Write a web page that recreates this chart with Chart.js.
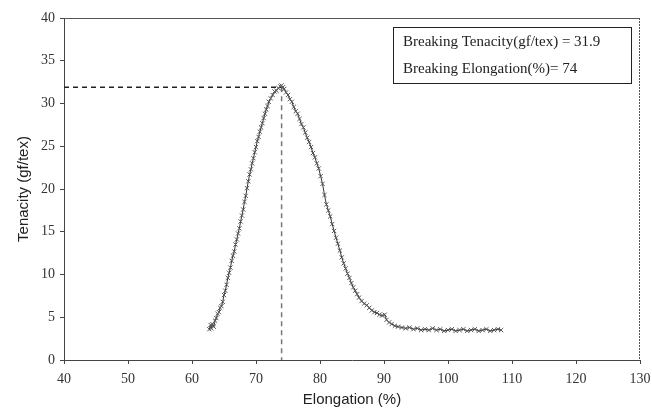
<!DOCTYPE html>
<html>
<head>
<meta charset="utf-8">
<script src="https://cdn.jsdelivr.net/npm/chart.js@4/dist/chart.umd.min.js"></script>
<style>
  body { margin: 0; background: #fff; }
  #wrap { width: 652px; height: 415px; }
</style>
</head>
<body>
<div id="wrap"><canvas id="chart" width="652" height="415"></canvas></div>
<script>
// tensile test curve
var elongation = [
  62.7, 62.9, 63.0, 63.2, 63.4, 63.6, 63.8, 64.0, 64.2, 64.4, 64.6, 64.8, 65.0, 65.2, 65.4, 65.6,
  65.8, 66.0, 66.2, 66.4, 66.6, 66.8, 67.0, 67.2, 67.4, 67.6, 67.8, 68.0, 68.2, 68.4, 68.6, 68.8,
  69.0, 69.2, 69.4, 69.6, 69.8, 70.0, 70.2, 70.4, 70.6, 70.8, 71.0, 71.2, 71.4, 71.6, 71.8, 72.0,
  72.3, 72.6, 72.9, 73.2, 73.5, 73.8, 74.0, 74.2, 74.4,
  74.7, 75.0, 75.3, 75.6, 75.9, 76.2, 76.5, 76.8, 77.1, 77.4, 77.7, 78.0, 78.3, 78.6, 78.9, 79.2,
  79.5, 79.8, 80.1, 80.4, 80.7, 81.0, 81.3, 81.6, 81.9, 82.2, 82.5, 82.8, 83.1, 83.4, 83.7, 84.0,
  84.3, 84.6, 84.9, 85.2, 85.5, 85.8, 86.1, 86.5, 86.9, 87.3, 87.7, 88.1, 88.5, 88.9, 89.3, 89.7,
  90.1, 90.4, 90.8, 91.2, 91.7, 92.2, 92.8, 93.4, 94.0, 94.6, 95.2, 95.8, 96.4, 97.0, 97.6, 98.2,
  98.8, 99.4, 100.0, 100.6, 101.2, 101.8, 102.4, 103.0, 103.6, 104.2, 104.8, 105.4, 106.0, 106.6,
  107.2, 107.8, 108.3
];
var tenacity = [
  3.6, 4.1, 3.7, 4.2, 3.9, 4.6, 4.9, 5.4, 5.6, 6.1, 6.3, 6.8, 7.6, 8.1, 8.8, 9.6,
  10.2, 10.8, 11.6, 12.2, 12.7, 13.5, 14.1, 14.8, 15.4, 16.2, 16.9, 17.6, 18.5, 19.2, 20.1, 20.9,
  21.7, 22.3, 23.0, 23.6, 24.3, 24.9, 25.6, 26.1, 26.7, 27.2, 27.7, 28.3, 28.8, 29.3, 29.7, 30.2,
  30.6, 31.0, 31.4, 31.5, 31.8, 32.0, 32.1, 31.9, 31.7,
  31.3, 31.0, 30.5, 30.2, 29.6, 29.1, 28.8, 28.2, 27.6, 27.2, 26.6, 26.0, 25.5, 24.9, 24.2, 23.7,
  23.0, 22.4, 21.5, 20.6, 19.3, 18.2, 17.5, 16.8, 15.9, 15.1, 14.3, 13.6, 12.8, 12.0, 11.3, 10.7,
  10.1, 9.6, 9.0, 8.5, 8.1, 7.7, 7.3, 6.9, 6.6, 6.4, 6.1, 5.8, 5.6, 5.5, 5.3, 5.2,
  5.3, 4.7, 4.4, 4.2, 4.0, 3.9, 3.8, 3.7, 3.8, 3.6, 3.7, 3.5, 3.6, 3.5, 3.7, 3.5,
  3.6, 3.4, 3.5, 3.6, 3.4, 3.5, 3.6, 3.4, 3.5, 3.6, 3.4, 3.5, 3.6, 3.4,
  3.5, 3.6, 3.5
];
var breakingTenacity = 31.9;
var breakingElongation = 74;
var xTicks = [40, 50, 60, 70, 80, 90, 100, 110, 120, 130];
var yTicks = [0, 5, 10, 15, 20, 25, 30, 35, 40];
var boxLines = [
  "Breaking Tenacity(gf/tex) = " + breakingTenacity,
  "Breaking Elongation(%)= " + breakingElongation
];

var points = [];
for (var i = 0; i < elongation.length; i++) {
  points.push({ x: elongation[i], y: tenacity[i] });
}

// frame top/right + the text box
var extras = {
  id: "extras",
  afterDraw: function(chart) {
    var ctx = chart.ctx;
    var a = chart.chartArea;
    ctx.save();
    ctx.strokeStyle = "#555";
    ctx.lineWidth = 1;
    ctx.beginPath();
    ctx.moveTo(a.left, a.top + 0.5);
    ctx.lineTo(a.right, a.top + 0.5);
    ctx.stroke();
    ctx.setLineDash([2, 1]);
    ctx.beginPath();
    ctx.moveTo(a.right - 0.5, a.top);
    ctx.lineTo(a.right - 0.5, a.bottom);
    ctx.stroke();
    ctx.setLineDash([]);

    var bx = a.right - 247, by = a.top + 9, bw = 238, bh = 56;
    ctx.fillStyle = "#fff";
    ctx.fillRect(bx, by, bw, bh);
    ctx.strokeStyle = "#222";
    ctx.strokeRect(bx + 0.5, by + 0.5, bw, bh);
    ctx.fillStyle = "#222";
    ctx.font = "15px 'Liberation Serif', 'DejaVu Serif', serif";
    ctx.textBaseline = "middle";
    ctx.fillText(boxLines[0], bx + 10, by + 15);
    ctx.fillText(boxLines[1], bx + 10, by + 42);
    ctx.restore();
  }
};

var tickFont = { family: "'Liberation Serif', 'DejaVu Serif', serif", size: 14 };
var titleFont = { family: "'Liberation Sans', Arial, sans-serif", size: 15 };

new Chart(document.getElementById("chart"), {
  type: "scatter",
  data: {
    datasets: [
      {
        data: points,
        showLine: true,
        borderColor: "#333",
        borderWidth: 1,
        pointStyle: "crossRot",
        pointRadius: 3,
        pointBorderWidth: 1,
        pointBorderColor: "#555",
        pointBackgroundColor: "#555",
        order: 1
      },
      {
        data: [{ x: xTicks[0], y: breakingTenacity }, { x: breakingElongation, y: breakingTenacity }],
        showLine: true,
        borderColor: "#222",
        borderWidth: 1.5,
        borderDash: [5, 4],
        pointRadius: 0,
        order: 2
      },
      {
        data: [{ x: breakingElongation, y: breakingTenacity }, { x: breakingElongation, y: 0 }],
        showLine: true,
        borderColor: "#777",
        borderWidth: 1.5,
        borderDash: [5, 4],
        pointRadius: 0,
        order: 2
      }
    ]
  },
  options: {
    responsive: false,
    animation: false,
    layout: { padding: { top: 18, right: 0, left: 0, bottom: 0 } },
    plugins: { legend: { display: false }, tooltip: { enabled: false } },
    scales: {
      x: {
        type: "linear",
        min: xTicks[0],
        max: xTicks[xTicks.length - 1],
        afterFit: function(s) { s.height = 55; s.paddingRight = 12; },
        afterBuildTicks: function(s) { s.ticks = xTicks.map(function(v) { return { value: v }; }); },
        grid: { display: true, drawOnChartArea: false, tickLength: 4, color: "#444" },
        border: { color: "#444", width: 1 },
        ticks: { font: tickFont, color: "#333", padding: 7, maxRotation: 0 },
        title: { display: true, text: "Elongation (%)", font: titleFont, color: "#222", padding: { top: 0, bottom: 6 } }
      },
      y: {
        min: yTicks[0],
        max: yTicks[yTicks.length - 1],
        afterFit: function(s) { s.width = 64; },
        afterBuildTicks: function(s) { s.ticks = yTicks.map(function(v) { return { value: v }; }); },
        grid: { display: true, drawOnChartArea: false, tickLength: 4, color: "#444" },
        border: { color: "#444", width: 1 },
        ticks: { font: tickFont, color: "#333", padding: 5 },
        title: { display: true, text: "Tenacity (gf/tex)", font: titleFont, color: "#222", padding: { top: 15, bottom: 0 } }
      }
    }
  },
  plugins: [extras]
});
</script>
</body>
</html>
